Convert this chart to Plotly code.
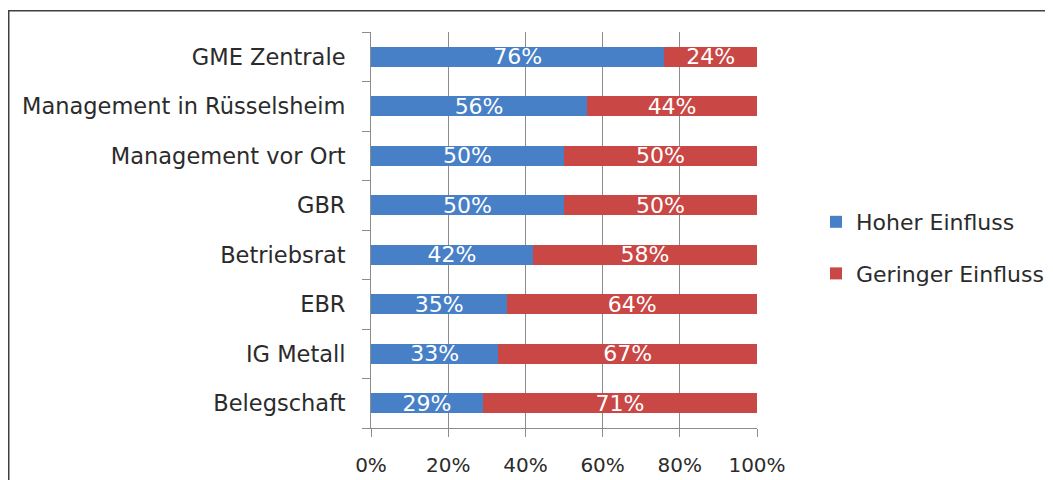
import plotly.graph_objects as go

categories = ["GME Zentrale", "Management in Rüsselsheim", "Management vor Ort", "GBR",
              "Betriebsrat", "EBR", "IG Metall", "Belegschaft"]
hoher = [76, 56, 50, 50, 42, 35, 33, 29]
geringer = [24, 44, 50, 50, 58, 64, 67, 71]
x_ticks = [0, 20, 40, 60, 80, 100]
x_tick_labels = ["0%", "20%", "40%", "60%", "80%", "100%"]

FONT = "DejaVu Sans"
W, H = 1053, 480
OFF = 8  # page body margin
# plot area in screen pixels: x 371..757, y 32..428
ML, MR, MT, MB = 371 - OFF, W - (757 - OFF), 32 - OFF, H - (428 - OFF)
PW, PH = W - ML - MR, H - MT - MB

def px_x(p):  # screen px -> paper
    return (p - OFF - ML) / PW

def px_y(p):
    return (H - MB - (p - OFF)) / PH

fig = go.Figure()
fig.add_trace(go.Bar(
    y=categories, x=hoher, orientation="h", name="Hoher Einfluss",
    marker=dict(color="#4780C6", line=dict(width=0)),
    text=[f"{v}%" for v in hoher], textposition="inside", insidetextanchor="middle",
    textfont=dict(color="white", size=22, family=FONT), legendgroup="a",
))
fig.add_trace(go.Bar(
    y=categories, x=geringer, orientation="h", name="Geringer Einfluss",
    marker=dict(color="#C94744", line=dict(width=0)),
    text=[f"{v}%" for v in geringer], textposition="inside", insidetextanchor="middle",
    textfont=dict(color="white", size=22, family=FONT), legendgroup="b",
))

fig.update_layout(
    width=W, height=H,
    margin=dict(l=ML, r=MR, t=MT, b=MB, pad=0, autoexpand=False),
    barmode="stack", barnorm="percent", bargap=0.6,
    plot_bgcolor="white", paper_bgcolor="white",
    font=dict(family=FONT, size=22, color="#2b2b2b"),
    uniformtext=dict(minsize=22, mode="show"),
    showlegend=True,
    legend=dict(x=px_x(816), y=px_y(248), xanchor="left", yanchor="middle",
                traceorder="grouped", tracegroupgap=20,
                font=dict(size=22, family=FONT, color="#2b2b2b"),
                bgcolor="rgba(0,0,0,0)"),
    xaxis=dict(range=[0, 100], tickvals=x_ticks, ticktext=x_tick_labels,
               tickfont=dict(size=20),
               showgrid=True, gridcolor="#8c8c8c", gridwidth=1,
               showline=True, linecolor="#8c8c8c", linewidth=1,
               ticks="outside", ticklen=8, tickcolor="#8c8c8c",
               ticklabelstandoff=11, zeroline=False, fixedrange=True,
               automargin=False),
    yaxis=dict(categoryorder="array", categoryarray=categories[::-1],
               tickfont=dict(size=22.5),
               showgrid=False, showline=True, linecolor="#8c8c8c", linewidth=1,
               ticks="outside", ticklen=8, tickcolor="#8c8c8c", tickson="boundaries",
               ticklabelstandoff=20, fixedrange=True, automargin=False),
    shapes=[dict(type="rect", xref="paper", yref="paper",
                 x0=px_x(8.75), x1=px_x(1200), y0=px_y(600), y1=px_y(10.75),
                 line=dict(color="#404040", width=1.5), fillcolor="rgba(0,0,0,0)",
                 layer="below")],
)

fig.write_html("out.html")
